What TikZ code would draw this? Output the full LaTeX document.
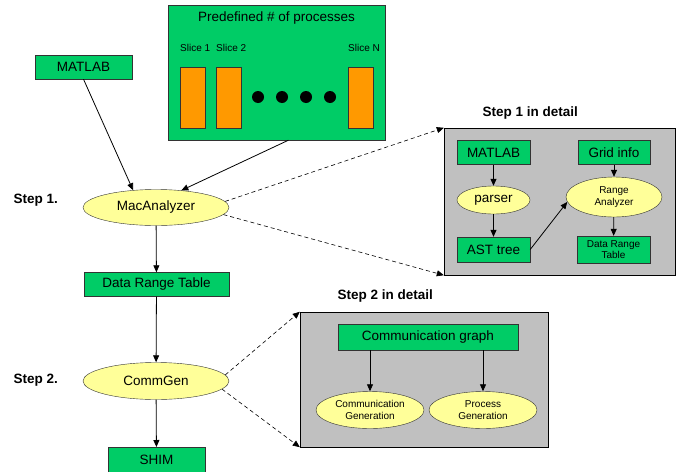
\documentclass[tikz,border=0pt]{standalone}
\usepackage{fontspec}
\setmainfont{Liberation Sans}
\usetikzlibrary{shapes,arrows.meta,positioning,calc}
\definecolor{boxgreen}{RGB}{0,204,102}
\definecolor{ovalyellow}{RGB}{255,255,153}
\definecolor{sliceorange}{RGB}{255,153,0}
\definecolor{detailgray}{RGB}{192,192,192}

\begin{document}
\begin{tikzpicture}[x=1pt,y=-1pt,
    font=\fontsize{13.5}{15}\selectfont,
    greenbox/.style={draw=black!80, fill=boxgreen, inner sep=0pt, align=center},
    oval/.style={ellipse, draw=black!80, fill=ovalyellow, inner sep=0pt, align=center},
    small/.style={font=\fontsize{10}{11.5}\selectfont},
    flow/.style={-{Triangle[length=7pt,width=6pt]}, line width=0.8pt},
    zoomline/.style={-{Triangle[length=7pt,width=6pt]}, line width=0.6pt, dash pattern=on 4pt off 3pt}]
    \useasboundingbox (0,0) rectangle (679,471);

    % Predefined processes with their slices
    \node[greenbox, minimum width=217pt, minimum height=135pt] (procs) at (276.5,72.5) {};
    \node (procstitle) at (276.5,18) {Predefined \# of processes};
    \foreach \x/\name/\label in {180/s1/Slice 1, 216/s2/Slice 2, 348/sn/Slice N} {
        \node[draw=black!80, fill=sliceorange, minimum width=24.5pt, minimum height=61pt,
              inner sep=0pt, anchor=north west] (\name) at (\x,67) {};
        \node[small, inner sep=0pt, anchor=west] (\name lbl) at (\x,48) {\label};
    }
    \foreach \x in {258,282,306,330} {
        \fill (\x,97) circle (6pt);
    }

    % Main flow
    \node[greenbox, minimum width=97pt, minimum height=24pt] (matlab) at (83.5,67) {MATLAB};
    \node[oval, minimum width=146pt, minimum height=36pt] (mac) at (156,207.5) {MacAnalyzer};
    \node[greenbox, minimum width=145pt, minimum height=24pt] (drt) at (156.5,284.5) {Data Range Table};
    \node[oval, minimum width=146pt, minimum height=37pt] (comm) at (156,381) {CommGen};
    \node[greenbox, minimum width=97pt, minimum height=25pt, anchor=north] (shim) at (156.5,447) {SHIM};

    \draw[flow] (matlab.south) -- (mac.143);
    \draw[flow] (procs.-80) -- (mac.34);
    \draw[flow] (mac) -- (drt);
    \draw[flow] (drt) -- (comm);
    \draw[flow] (comm) -- (shim);

    % Step labels
    \node[font=\fontsize{13.5}{15}\selectfont\bfseries, anchor=west] (step1) at (10,200) {Step 1.};
    \node[font=\fontsize{13.5}{15}\selectfont\bfseries, anchor=west] (step2) at (10,380) {Step 2.};

    % Step 1 in detail
    \node[draw, fill=detailgray, minimum width=231pt, minimum height=147pt] (detail1) at (559.5,201.5) {};
    \node[font=\fontsize{13.5}{15}\selectfont\bfseries, anchor=west] (detail1title) at (479,113) {Step 1 in detail};
    \node[greenbox, minimum width=73pt, minimum height=24pt] (dmatlab) at (493.5,152.5) {MATLAB};
    \node[greenbox, minimum width=72pt, minimum height=24pt] (grid) at (614,152.5) {Grid info};
    \node[oval, minimum width=73pt, minimum height=28pt] (parser) at (493.5,200) {parser};
    \node[greenbox, minimum width=73pt, minimum height=25pt] (ast) at (493.5,249.5) {AST tree};
    \node[oval, small, minimum width=96pt, minimum height=40pt] (ra) at (614,197) {Range\\Analyzer};
    \node[greenbox, small, minimum width=73pt, minimum height=27pt] (ddrt) at (613.5,249.5) {Data Range\\Table};

    \draw[flow] (dmatlab) -- (parser);
    \draw[flow] (parser) -- (ast);
    \draw[flow] (grid) -- (ra);
    \draw[flow] (ra) -- (ddrt);
    \draw[flow] (ast.east) -- (ra.186);

    % Step 2 in detail
    \node[draw, fill=detailgray, minimum width=248pt, minimum height=135pt] (detail2) at (424,379.5) {};
    \node[font=\fontsize{13.5}{15}\selectfont\bfseries, anchor=west] (detail2title) at (334,296) {Step 2 in detail};
    \node[greenbox, minimum width=180pt, minimum height=26pt] (cgraph) at (428,337) {Communication graph};
    \node[oval, small, minimum width=108pt, minimum height=37pt] (cgen) at (370,410) {Communication\\Generation};
    \node[oval, small, minimum width=108pt, minimum height=37pt] (pgen) at (483,410) {Process\\Generation};

    \draw[flow] (cgraph.south -| cgen) -- (cgen);
    \draw[flow] (cgraph.south -| pgen) -- (pgen);

    % Zoom connectors
    \draw[zoomline] (mac.5) -- (detail1.north west);
    \draw[zoomline] (mac.-6) -- (detail1.south west);
    \draw[zoomline] (comm.5) -- (detail2.north west);
    \draw[zoomline] (comm.-7) -- (detail2.south west);
\end{tikzpicture}
\end{document}
